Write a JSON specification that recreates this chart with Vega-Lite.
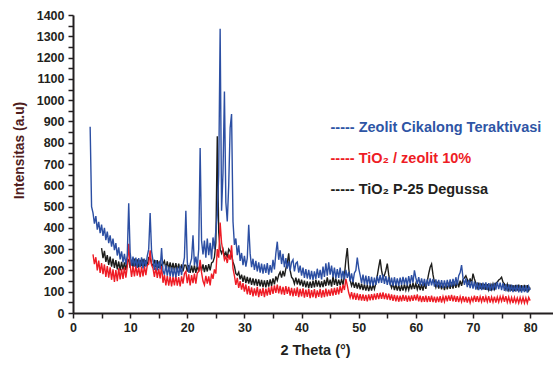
{
"$schema": "https://vega.github.io/schema/vega-lite/v6.json",
"width": 480, "height": 298,
"autosize": {"type": "none"},
"padding": {"left": 73, "top": 15, "right": 0, "bottom": 52},
"background": "white",
"config": {"view": {"stroke": null}, "font": "Liberation Sans"},
"data": {"values": [
{"x":3.0,"b":875},{"x":3.25,"b":500},{"x":3.5,"b":470,"r":275},{"x":3.75,"b":420,"r":230},{"x":4.0,"b":455,"r":262},{"x":4.25,"b":392,"r":200},{"x":4.5,"b":428,"r":246},{"x":4.75,"b":375,"r":188},
{"x":5.0,"b":415,"r":235,"k":305},{"x":5.25,"b":362,"r":182,"k":258},{"x":5.5,"b":400,"r":228,"k":292},{"x":5.75,"b":342,"r":170,"k":240},{"x":6.0,"b":382,"r":220,"k":272},{"x":6.25,"b":328,"r":166,"k":226},{"x":6.5,"b":365,"r":215,"k":265},{"x":6.75,"b":312,"r":156,"k":218},
{"x":7.0,"b":350,"r":205,"k":256},{"x":7.25,"b":295,"r":146,"k":212},{"x":7.5,"b":328,"r":202,"k":248},{"x":7.75,"b":270,"r":150,"k":205},{"x":8.0,"b":308,"r":210,"k":242},{"x":8.25,"b":252,"r":158,"k":200},{"x":8.5,"b":290,"r":208,"k":240},{"x":8.75,"b":238,"r":160,"k":204},
{"x":9.0,"b":278,"r":215,"k":238},{"x":9.25,"b":228,"r":166,"k":202},{"x":9.5,"b":272,"r":218,"k":242},{"x":9.75,"b":515,"r":325,"k":250},{"x":10.0,"b":285,"r":225,"k":212},{"x":10.25,"b":222,"r":170,"k":250},{"x":10.5,"b":265,"r":220,"k":215},{"x":10.75,"b":218,"r":172,"k":255},
{"x":11.0,"b":260,"r":222,"k":218},{"x":11.25,"b":212,"r":175,"k":252},{"x":11.5,"b":258,"r":215,"k":216},{"x":11.75,"b":215,"r":168,"k":250},{"x":12.0,"b":262,"r":218,"k":220},{"x":12.25,"b":210,"r":172,"k":254},{"x":12.5,"b":256,"r":220,"k":218},{"x":12.75,"b":218,"r":178,"k":248},
{"x":13.0,"b":268,"r":225,"k":222},{"x":13.25,"b":300,"r":230,"k":260},{"x":13.5,"b":470,"r":295,"k":258},{"x":13.75,"b":290,"r":225,"k":230},{"x":14.0,"b":245,"r":210,"k":222},{"x":14.25,"b":202,"r":170,"k":250},{"x":14.5,"b":248,"r":215,"k":215},{"x":14.75,"b":200,"r":165,"k":248},
{"x":15.0,"b":242,"r":208,"k":212},{"x":15.25,"b":205,"r":162,"k":246},{"x":15.5,"b":305,"r":220,"k":218},{"x":15.75,"b":198,"r":142,"k":232},{"x":16.0,"b":180,"r":178,"k":245},{"x":16.25,"b":225,"r":130,"k":208},{"x":16.5,"b":175,"r":175,"k":242},{"x":16.75,"b":218,"r":128,"k":205},
{"x":17.0,"b":172,"r":172,"k":238},{"x":17.25,"b":215,"r":125,"k":202},{"x":17.5,"b":170,"r":170,"k":236},{"x":17.75,"b":212,"r":130,"k":200},{"x":18.0,"b":168,"r":175,"k":234},{"x":18.25,"b":215,"r":128,"k":198},{"x":18.5,"b":174,"r":168,"k":232},{"x":18.75,"b":220,"r":125,"k":195},
{"x":19.0,"b":178,"r":172,"k":228},{"x":19.25,"b":225,"r":138,"k":196},{"x":19.5,"b":260,"r":185,"k":225},{"x":19.75,"b":480,"r":195,"k":225},{"x":20.0,"b":240,"r":140,"k":195},{"x":20.25,"b":190,"r":182,"k":225},{"x":20.5,"b":230,"r":130,"k":188},{"x":20.75,"b":255,"r":178,"k":222},
{"x":21.0,"b":365,"r":140,"k":190},{"x":21.25,"b":225,"r":185,"k":224},{"x":21.5,"b":265,"r":138,"k":188},{"x":21.75,"b":215,"r":188,"k":222},{"x":22.0,"b":300,"r":195,"k":195},{"x":22.25,"b":775,"r":250,"k":228},{"x":22.5,"b":340,"r":190,"k":198},{"x":22.75,"b":275,"r":150,"k":228},
{"x":23.0,"b":340,"r":132,"k":192},{"x":23.25,"b":260,"r":175,"k":225},{"x":23.5,"b":350,"r":138,"k":195},{"x":23.75,"b":272,"r":172,"k":230},{"x":24.0,"b":330,"r":130,"k":200},{"x":24.25,"b":252,"r":185,"k":235},{"x":24.5,"b":355,"r":160,"k":240},{"x":24.75,"b":300,"r":205,"k":262},
{"x":25.0,"b":390,"r":185,"k":330},{"x":25.25,"b":460,"r":300,"k":830},{"x":25.5,"b":650,"r":260,"k":380},{"x":25.75,"b":1335,"r":425,"k":300},{"x":26.0,"b":480,"r":330,"k":280},{"x":26.25,"b":660,"r":290,"k":300},{"x":26.5,"b":1040,"r":250,"k":270},{"x":26.75,"b":520,"r":265,"k":285},
{"x":27.0,"b":430,"r":235,"k":260},{"x":27.25,"b":600,"r":275,"k":300},{"x":27.5,"b":870,"r":250,"k":290},{"x":27.75,"b":935,"r":318,"k":270},{"x":28.0,"b":430,"r":210,"k":240},{"x":28.25,"b":320,"r":175,"k":220},{"x":28.5,"b":350,"r":132,"k":185},{"x":28.75,"b":272,"r":165,"k":178},
{"x":29.0,"b":318,"r":118,"k":192},{"x":29.25,"b":245,"r":150,"k":158},{"x":29.5,"b":282,"r":110,"k":180},{"x":29.75,"b":225,"r":140,"k":146},{"x":30.0,"b":268,"r":100,"k":176},{"x":30.25,"b":218,"r":134,"k":140},{"x":30.5,"b":258,"r":88,"k":170},{"x":30.75,"b":415,"r":126,"k":138},
{"x":31.0,"b":280,"r":85,"k":166},{"x":31.25,"b":215,"r":120,"k":132},{"x":31.5,"b":255,"r":78,"k":163},{"x":31.75,"b":202,"r":116,"k":130},{"x":32.0,"b":245,"r":82,"k":160},{"x":32.25,"b":195,"r":123,"k":128},{"x":32.5,"b":238,"r":75,"k":158},{"x":32.75,"b":190,"r":113,"k":125},
{"x":33.0,"b":232,"r":80,"k":156},{"x":33.25,"b":185,"r":118,"k":122},{"x":33.5,"b":228,"r":74,"k":153},{"x":33.75,"b":188,"r":114,"k":120},{"x":34.0,"b":235,"r":82,"k":154},{"x":34.25,"b":180,"r":120,"k":124},{"x":34.5,"b":225,"r":85,"k":158},{"x":34.75,"b":190,"r":126,"k":128},
{"x":35.0,"b":250,"r":90,"k":163},{"x":35.25,"b":205,"r":130,"k":135},{"x":35.5,"b":280,"r":95,"k":172},{"x":35.75,"b":335,"r":133,"k":152},{"x":36.0,"b":250,"r":92,"k":178},{"x":36.25,"b":295,"r":128,"k":192},{"x":36.5,"b":230,"r":88,"k":166},{"x":36.75,"b":278,"r":123,"k":198},
{"x":37.0,"b":215,"r":85,"k":172},{"x":37.25,"b":258,"r":126,"k":208},{"x":37.5,"b":208,"r":90,"k":235},{"x":37.75,"b":243,"r":123,"k":280},{"x":38.0,"b":200,"r":82,"k":200},{"x":38.25,"b":238,"r":118,"k":168},{"x":38.5,"b":250,"r":78,"k":160},{"x":38.75,"b":195,"r":116,"k":137},
{"x":39.0,"b":233,"r":80,"k":166},{"x":39.25,"b":240,"r":120,"k":134},{"x":39.5,"b":190,"r":75,"k":161},{"x":39.75,"b":223,"r":113,"k":130},{"x":40.0,"b":175,"r":78,"k":157},{"x":40.25,"b":213,"r":116,"k":124},{"x":40.5,"b":165,"r":72,"k":152},{"x":40.75,"b":206,"r":110,"k":120},
{"x":41.0,"b":162,"r":76,"k":149},{"x":41.25,"b":203,"r":113,"k":117},{"x":41.5,"b":158,"r":70,"k":147},{"x":41.75,"b":198,"r":108,"k":118},{"x":42.0,"b":155,"r":74,"k":152},{"x":42.25,"b":196,"r":112,"k":120},{"x":42.5,"b":160,"r":70,"k":157},{"x":42.75,"b":208,"r":106,"k":124},
{"x":43.0,"b":165,"r":76,"k":152},{"x":43.25,"b":203,"r":113,"k":120},{"x":43.5,"b":158,"r":72,"k":149},{"x":43.75,"b":218,"r":108,"k":122},{"x":44.0,"b":170,"r":75,"k":155},{"x":44.25,"b":233,"r":114,"k":127},{"x":44.5,"b":175,"r":78,"k":167},{"x":44.75,"b":238,"r":110,"k":130},
{"x":45.0,"b":180,"r":80,"k":157},{"x":45.25,"b":223,"r":116,"k":124},{"x":45.5,"b":168,"r":82,"k":172},{"x":45.75,"b":213,"r":118,"k":132},{"x":46.0,"b":162,"r":85,"k":162},{"x":46.25,"b":206,"r":120,"k":127},{"x":46.5,"b":165,"r":88,"k":157},{"x":46.75,"b":213,"r":126,"k":130},
{"x":47.0,"b":160,"r":95,"k":159},{"x":47.25,"b":198,"r":133,"k":132},{"x":47.5,"b":158,"r":108,"k":175},{"x":47.75,"b":203,"r":160,"k":250},{"x":48.0,"b":165,"r":130,"k":305},{"x":48.25,"b":193,"r":95,"k":210},{"x":48.5,"b":150,"r":72,"k":155},{"x":48.75,"b":186,"r":98,"k":128},
{"x":49.0,"b":145,"r":64,"k":148},{"x":49.25,"b":188,"r":94,"k":118},{"x":49.5,"b":200,"r":62,"k":144},{"x":49.75,"b":260,"r":92,"k":115},{"x":50.0,"b":210,"r":60,"k":141},{"x":50.25,"b":178,"r":88,"k":111},{"x":50.5,"b":140,"r":58,"k":138},{"x":50.75,"b":180,"r":87,"k":108},
{"x":51.0,"b":135,"r":57,"k":134},{"x":51.25,"b":176,"r":85,"k":105},{"x":51.5,"b":132,"r":55,"k":132},{"x":51.75,"b":173,"r":87,"k":103},{"x":52.0,"b":130,"r":59,"k":131},{"x":52.25,"b":170,"r":89,"k":105},{"x":52.5,"b":128,"r":61,"k":134},{"x":52.75,"b":166,"r":91,"k":112},
{"x":53.0,"b":132,"r":63,"k":140},{"x":53.25,"b":173,"r":93,"k":175},{"x":53.5,"b":140,"r":65,"k":215},{"x":53.75,"b":178,"r":95,"k":252},{"x":54.0,"b":142,"r":67,"k":200},{"x":54.25,"b":180,"r":97,"k":165},{"x":54.5,"b":137,"r":65,"k":178},{"x":54.75,"b":173,"r":92,"k":200},
{"x":55.0,"b":132,"r":63,"k":232},{"x":55.25,"b":168,"r":91,"k":180},{"x":55.5,"b":130,"r":61,"k":140},{"x":55.75,"b":166,"r":87,"k":118},{"x":56.0,"b":127,"r":57,"k":138},{"x":56.25,"b":168,"r":85,"k":108},{"x":56.5,"b":130,"r":55,"k":134},{"x":56.75,"b":163,"r":83,"k":105},
{"x":57.0,"b":127,"r":53,"k":131},{"x":57.25,"b":166,"r":81,"k":103},{"x":57.5,"b":132,"r":55,"k":130},{"x":57.75,"b":170,"r":85,"k":105},{"x":58.0,"b":134,"r":57,"k":134},{"x":58.25,"b":166,"r":83,"k":107},{"x":58.5,"b":130,"r":53,"k":132},{"x":58.75,"b":173,"r":81,"k":108},
{"x":59.0,"b":137,"r":55,"k":136},{"x":59.25,"b":178,"r":83,"k":111},{"x":59.5,"b":142,"r":57,"k":141},{"x":59.75,"b":200,"r":85,"k":113},{"x":60.0,"b":165,"r":59,"k":138},{"x":60.25,"b":137,"r":87,"k":111},{"x":60.5,"b":168,"r":55,"k":136},{"x":60.75,"b":130,"r":81,"k":108},
{"x":61.0,"b":163,"r":51,"k":134},{"x":61.25,"b":127,"r":79,"k":105},{"x":61.5,"b":160,"r":53,"k":141},{"x":61.75,"b":124,"r":81,"k":113},{"x":62.0,"b":158,"r":51,"k":150},{"x":62.25,"b":127,"r":79,"k":185},{"x":62.5,"b":163,"r":53,"k":215},{"x":62.75,"b":130,"r":81,"k":230},
{"x":63.0,"b":160,"r":51,"k":180},{"x":63.25,"b":124,"r":77,"k":145},{"x":63.5,"b":158,"r":49,"k":121},{"x":63.75,"b":122,"r":77,"k":147},{"x":64.0,"b":156,"r":51,"k":115},{"x":64.25,"b":120,"r":79,"k":142},{"x":64.5,"b":154,"r":49,"k":111},{"x":64.75,"b":118,"r":77,"k":139},
{"x":65.0,"b":153,"r":53,"k":108},{"x":65.25,"b":120,"r":81,"k":137},{"x":65.5,"b":156,"r":55,"k":111},{"x":65.75,"b":122,"r":83,"k":142},{"x":66.0,"b":158,"r":57,"k":113},{"x":66.25,"b":124,"r":85,"k":145},{"x":66.5,"b":160,"r":55,"k":115},{"x":66.75,"b":127,"r":82,"k":147},
{"x":67.0,"b":168,"r":53,"k":118},{"x":67.25,"b":132,"r":79,"k":149},{"x":67.5,"b":175,"r":51,"k":121},{"x":67.75,"b":190,"r":77,"k":152},{"x":68.0,"b":225,"r":53,"k":128},{"x":68.25,"b":165,"r":79,"k":157},{"x":68.5,"b":132,"r":51,"k":165},{"x":68.75,"b":163,"r":77,"k":175},
{"x":69.0,"b":122,"r":49,"k":157},{"x":69.25,"b":156,"r":75,"k":133},{"x":69.5,"b":117,"r":48,"k":162},{"x":69.75,"b":150,"r":73,"k":138},{"x":70.0,"b":114,"r":55,"k":185},{"x":70.25,"b":148,"r":81,"k":160},{"x":70.5,"b":110,"r":53,"k":140},{"x":70.75,"b":144,"r":79,"k":118},
{"x":71.0,"b":107,"r":51,"k":142},{"x":71.25,"b":142,"r":77,"k":113},{"x":71.5,"b":108,"r":53,"k":139},{"x":71.75,"b":143,"r":79,"k":111},{"x":72.0,"b":110,"r":51,"k":137},{"x":72.25,"b":144,"r":77,"k":109},{"x":72.5,"b":107,"r":53,"k":135},{"x":72.75,"b":140,"r":79,"k":108},
{"x":73.0,"b":104,"r":49,"k":133},{"x":73.25,"b":138,"r":75,"k":111},{"x":73.5,"b":106,"r":51,"k":137},{"x":73.75,"b":142,"r":77,"k":113},{"x":74.0,"b":110,"r":49,"k":140},{"x":74.25,"b":146,"r":75,"k":145},{"x":74.5,"b":112,"r":51,"k":155},{"x":74.75,"b":143,"r":77,"k":160},
{"x":75.0,"b":108,"r":55,"k":168},{"x":75.25,"b":140,"r":79,"k":145},{"x":75.5,"b":104,"r":53,"k":137},{"x":75.75,"b":136,"r":79,"k":111},{"x":76.0,"b":102,"r":51,"k":135},{"x":76.25,"b":134,"r":75,"k":108},{"x":76.5,"b":100,"r":49,"k":133},{"x":76.75,"b":133,"r":73,"k":105},
{"x":77.0,"b":98,"r":47,"k":131},{"x":77.25,"b":130,"r":73,"k":103},{"x":77.5,"b":100,"r":49,"k":132},{"x":77.75,"b":132,"r":71,"k":105},{"x":78.0,"b":97,"r":47,"k":133},{"x":78.25,"b":130,"r":73,"k":103},{"x":78.5,"b":96,"r":49,"k":131},{"x":78.75,"b":128,"r":73,"k":105},
{"x":79.0,"b":98,"r":47,"k":132},{"x":79.25,"b":130,"r":71,"k":103},{"x":79.5,"b":96,"r":47,"k":131},{"x":79.75,"b":126,"r":73,"k":105},{"x":80.0,"b":108,"r":58,"k":120}
]},
"transform": [{"fold": ["k", "r", "b"], "as": ["s", "v"]}, {"filter": "isValid(datum.v)"}],
"encoding": {
  "x": {"field": "x", "type": "quantitative", "scale": {"domain": [0, 84], "nice": false, "zero": false},
    "axis": {"values": [0,5,10,15,20,25,30,35,40,45,50,55,60,65,70,75,80], "format": "d",
      "labelExpr": "datum.value % 10 === 0 ? datum.label : ''", "labelOverlap": false, "labelFlush": false,
      "title": "2 Theta (°)", "grid": false,
      "domainColor": "#231f20", "domainWidth": 2, "tickColor": "#231f20", "tickWidth": 1.5, "tickSize": 5,
      "labelFont": "Liberation Sans", "labelFontWeight": "bold", "labelFontSize": 12.5, "labelColor": "#231f20", "labelPadding": 3,
      "titleFont": "Liberation Sans", "titleFontWeight": "bold", "titleFontSize": 14.5, "titleColor": "#231f20",
      "titleX": 242, "titleY": 37, "titleAlign": "center", "titleBaseline": "middle",
      "encode": {"ticks": {"update": {"y2": {"signal": "datum.value % 10 === 0 ? 5 : 3"}}}}}},
  "y": {"field": "v", "type": "quantitative", "scale": {"domain": [0, 1400], "nice": false},
    "axis": {"values": [0,50,100,150,200,250,300,350,400,450,500,550,600,650,700,750,800,850,900,950,1000,1050,1100,1150,1200,1250,1300,1350,1400], "format": "d",
      "labelExpr": "datum.value % 100 === 0 ? datum.label : ''", "labelOverlap": false,
      "title": "Intensitas (a.u)", "grid": false,
      "domainColor": "#231f20", "domainWidth": 2, "tickColor": "#231f20", "tickWidth": 1.5, "tickSize": 5,
      "labelFont": "Liberation Sans", "labelFontWeight": "bold", "labelFontSize": 12.5, "labelColor": "#231f20", "labelPadding": 4,
      "titleFont": "Liberation Sans", "titleFontWeight": "bold", "titleFontSize": 13.8, "titleColor": "#4f1d1d",
      "titleX": -54, "titleY": 135, "titleAngle": -90, "titleAlign": "center", "titleBaseline": "middle",
      "encode": {"ticks": {"update": {"x2": {"signal": "datum.value % 100 === 0 ? -5 : -3"}}}}}},
  "color": {"field": "s", "type": "nominal",
    "scale": {"domain": ["b", "r", "k"], "range": ["#2c4fa3", "#ee1c25", "#1d1d1b"]},
    "legend": {"title": null, "orient": "none", "legendX": 243, "legendY": 106,
      "symbolSize": 0, "symbolOpacity": 0, "symbolStrokeWidth": 0, "labelOffset": 0, "padding": 0, "rowPadding": 16,
      "labelFont": "Liberation Sans", "labelFontWeight": "bold", "labelFontSize": 14.5, "labelLimit": 400,
      "labelExpr": "datum.value === 'b' ? '----- Zeolit Cikalong Teraktivasi' : datum.value === 'r' ? '----- TiO₂ / zeolit 10%' : '----- TiO₂ P-25 Degussa'",
      "encode": {"labels": {"update": {"fill": {"signal": "datum.value === 'b' ? '#2e55a5' : datum.value === 'r' ? '#ee1c25' : '#231f20'"}}}}}}
},
"layer": [
  {"transform": [{"filter": "datum.s === 'k'"}], "mark": {"type": "line", "strokeWidth": 1.4}},
  {"transform": [{"filter": "datum.s === 'r'"}], "mark": {"type": "line", "strokeWidth": 1.4}},
  {"transform": [{"filter": "datum.s === 'b'"}], "mark": {"type": "line", "strokeWidth": 1.4}}
]
}
